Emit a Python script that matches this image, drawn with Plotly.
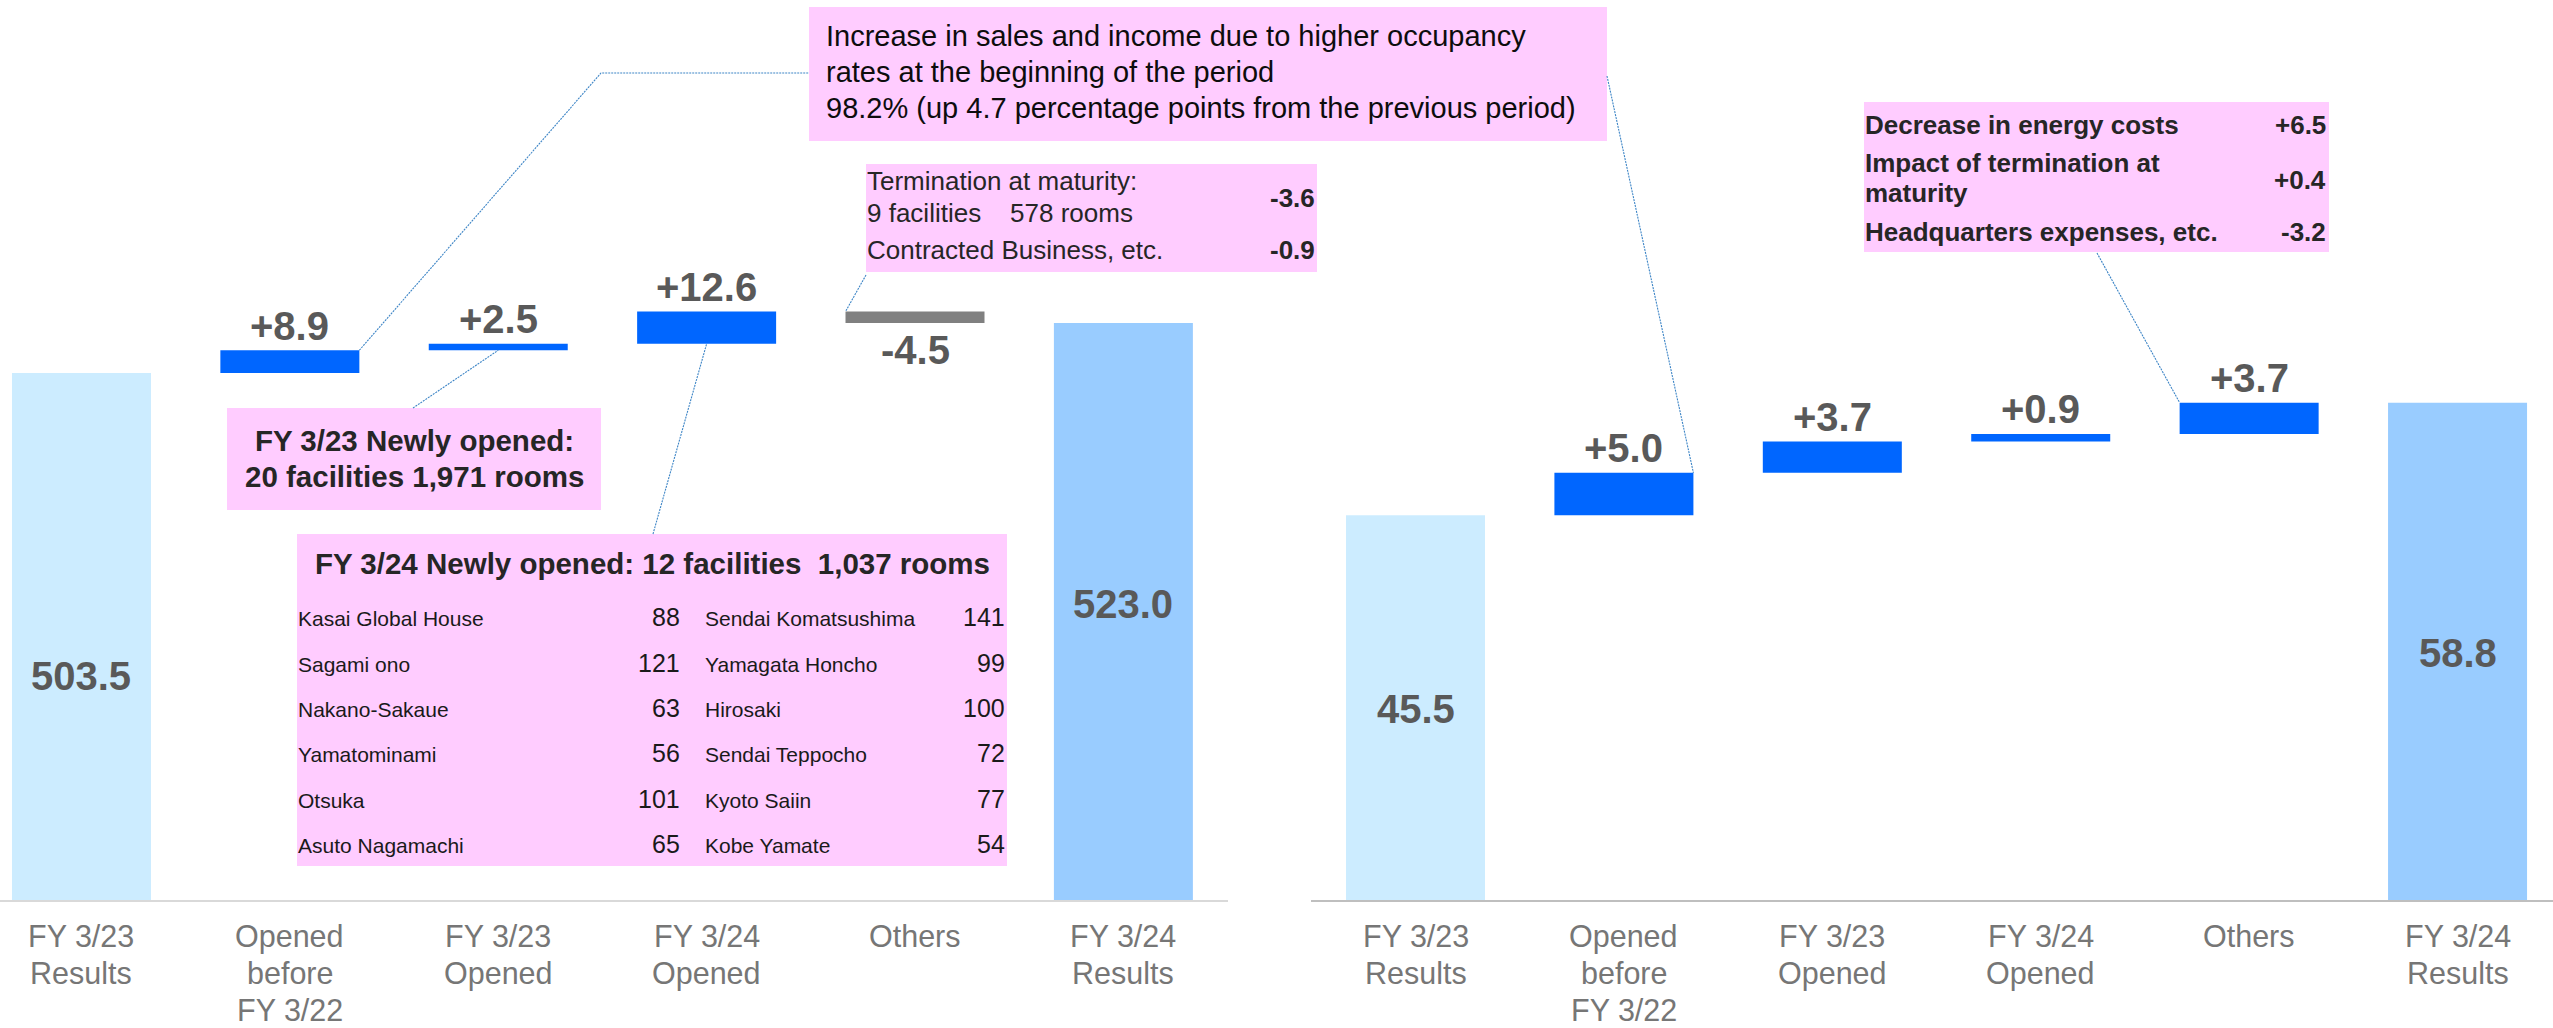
import plotly.graph_objects as go

W, H = 2553, 1028
FONT = "Liberation Sans, Arial, sans-serif"

# ---------------- data ----------------
categories = ["FY 3/23<br>Results", "Opened<br>before<br>FY 3/22", "FY 3/23<br>Opened",
              "FY 3/24<br>Opened", "Others", "FY 3/24<br>Results"]
sales_values = [503.5, 8.9, 2.5, 12.6, -4.5, 523.0]
sales_labels = ["503.5", "+8.9", "+2.5", "+12.6", "-4.5", "523.0"]
profit_values = [45.5, 5.0, 3.7, 0.9, 3.7, 58.8]
profit_labels = ["45.5", "+5.0", "+3.7", "+0.9", "+3.7", "58.8"]

occupancy_lines = ["Increase in sales and income due to higher occupancy",
                   "rates at the beginning of the period",
                   "98.2% (up 4.7 percentage points from the previous period)"]
others_lines = ["Termination at maturity:", "9 facilities\u00a0\u00a0\u00a0 578 rooms", "Contracted Business, etc."]
others_values = ["-3.6", "-0.9"]
fy23_lines = ["FY 3/23 Newly opened:", "20 facilities 1,971 rooms"]
fy24_title = "FY 3/24 Newly opened: 12 facilities\u00a0 1,037 rooms"
fy24_names_col1 = ["Kasai Global House", "Sagami ono", "Nakano-Sakaue", "Yamatominami", "Otsuka", "Asuto Nagamachi"]
fy24_rooms_col1 = [88, 121, 63, 56, 101, 65]
fy24_names_col2 = ["Sendai Komatsushima", "Yamagata Honcho", "Hirosaki", "Sendai Teppocho", "Kyoto Saiin", "Kobe Yamate"]
fy24_rooms_col2 = [141, 99, 100, 72, 77, 54]
profit_item_lines = ["Decrease in energy costs", "Impact of termination at", "maturity", "Headquarters expenses, etc."]
profit_item_values = ["+6.5", "+0.4", "-3.2"]

# ---------------- geometry / style ----------------
PLOT_BOTTOM = 900
L_DOM = (0, 1228)
R_DOM = (1311, 2553)
L_XR = (-0.391, 5.502)
R_XR = (-0.5014, 5.458)
L_YR = (298.0, 649.0)
R_YR = (0.0, 106.4)
BAR_W = 0.667
TICK_BASELINE = 947
TICK_LINE_STEP = 36.8
TICK_SIZE = 30.5

C_START = "#CCECFF"
C_END = "#99CCFF"
C_UP = "#0066FF"
C_DOWN = "#808080"
C_LABEL = "#595959"
C_TICK = "#767676"
C_PINK = "#FFCCFF"
C_TEXT = "#262626"
C_LINK = "#3D85C6"


def pxx(x):
    return x / W


def pxy(y):
    return 1 - y / H


def data2px(i, v, dom, xr, yr):
    x = dom[0] + (i - xr[0]) / (xr[1] - xr[0]) * (dom[1] - dom[0])
    y = PLOT_BOTTOM - (v - yr[0]) / (yr[1] - yr[0]) * PLOT_BOTTOM
    return x, y


def waterfall(values):
    bases, tops, bottoms = [], [], []
    running = 0.0
    n = len(values)
    for k, v in enumerate(values):
        if k == 0:
            bases.append(0.0)
            running = v
            tops.append(v)
            bottoms.append(0.0)
        elif k == n - 1:
            bases.append(0.0)
            tops.append(v)
            bottoms.append(0.0)
        else:
            bases.append(running)
            tops.append(max(running, running + v))
            bottoms.append(min(running, running + v))
            running += v
    return bases, tops, bottoms


fig = go.Figure()

charts = [
    ("x", "y", sales_values, sales_labels, L_DOM, L_XR, L_YR,
     [C_START, C_UP, C_UP, C_UP, C_DOWN, C_END], [-39, 0, 0, 0, 0, 7.5]),
    ("x2", "y2", profit_values, profit_labels, R_DOM, R_XR, R_YR,
     [C_START, C_UP, C_UP, C_UP, C_UP, C_END], [-1.5, 0, 0, 0, 0, -2]),
]

annotations = []
tops_store = {}
for xa, ya, vals, labels, dom, xr, yr, colors, tweaks in charts:
    bases, tops, bottoms = waterfall(vals)
    tops_store[xa] = (bases, tops, bottoms)
    fig.add_trace(go.Bar(
        x=list(range(len(vals))), y=vals, base=bases, width=BAR_W,
        marker=dict(color=colors, line=dict(width=0)),
        xaxis=xa, yaxis=ya, showlegend=False, hoverinfo="skip"))
    n = len(vals)
    for k, (v, lab) in enumerate(zip(vals, labels)):
        if k == 0 or k == n - 1:
            y, ys = (yr[0] + v) / 2, tweaks[k]
        elif v >= 0:
            y, ys = tops[k], 24.5
        else:
            y, ys = bottoms[k], -27
        annotations.append(dict(x=k, y=y, xref=xa, yref=ya, text="<b>%s</b>" % lab,
                                showarrow=False, yanchor="middle", yshift=ys,
                                font=dict(size=40, color=C_LABEL, family=FONT)))
    # category labels, one line each, centred on the category position of the axis
    for k, cat in enumerate(categories):
        for j, part in enumerate(cat.split("<br>")):
            bl = TICK_BASELINE + TICK_LINE_STEP * j
            annotations.append(dict(x=k, y=pxy(bl - 0.35 * TICK_SIZE), xref=xa, yref="paper",
                                    text=part, showarrow=False, xanchor="center", yanchor="middle",
                                    borderpad=0,
                                    font=dict(size=TICK_SIZE, color=C_TICK, family=FONT)))


def text_line(x, baseline, text, size, bold=False, anchor="left", color=C_TEXT):
    t = "<b>%s</b>" % text if bold else text
    annotations.append(dict(x=pxx(x), y=pxy(baseline - 0.35 * size), xref="paper", yref="paper",
                            text=t, showarrow=False, xanchor=anchor, yanchor="middle",
                            borderpad=0, font=dict(size=size, color=color, family=FONT)))


shapes = []


def box(x0, y0, x1, y1):
    shapes.append(dict(type="rect", xref="paper", yref="paper", x0=pxx(x0), x1=pxx(x1),
                       y0=pxy(y1), y1=pxy(y0), fillcolor=C_PINK, line=dict(width=0), layer="below"))


def link(points):
    path = "M " + " L ".join("%f,%f" % (pxx(px), pxy(py)) for px, py in points)
    shapes.append(dict(type="path", xref="paper", yref="paper", path=path,
                       line=dict(color=C_LINK, width=1.1, dash="2px,1px")))


# Box 1: occupancy
box(809, 7, 1607, 141)
for line, bl in zip(occupancy_lines, [45.7, 81.7, 118]):
    text_line(825, bl, line, 29, color="#0D0D0D")

# Box 2: others (sales)
box(866, 164, 1317, 272)
for line, bl in zip(others_lines, [190, 222, 259]):
    text_line(866, bl, line, 26)
for val, bl in zip(others_values, [207, 259]):
    text_line(1316, bl, val, 26, bold=True, anchor="right")

# Box 3: FY3/23 newly opened
box(227, 408, 601, 510)
for line, bl in zip(fy23_lines, [451, 487]):
    text_line(414, bl, line, 29.5, bold=True, anchor="center")

# Box 4: FY3/24 newly opened list
box(297, 534, 1007, 866)
text_line(652, 574, fy24_title, 29.5, bold=True, anchor="center")
for r in range(len(fy24_names_col1)):
    bl = 626 + 45.4 * r
    text_line(297, bl, fy24_names_col1[r], 21, color="#1A1A1A")
    text_line(681, bl, str(fy24_rooms_col1[r]), 25, anchor="right", color="#1A1A1A")
    text_line(704, bl, fy24_names_col2[r], 21, color="#1A1A1A")
    text_line(1006, bl, str(fy24_rooms_col2[r]), 25, anchor="right", color="#1A1A1A")

# Box 5: profit items
box(1864, 102, 2329, 252)
for line, bl in zip(profit_item_lines, [134, 172, 202, 241]):
    text_line(1864, bl, line, 26, bold=True)
for val, bl in zip(profit_item_values, [134, 189, 241]):
    text_line(2327, bl, val, 26, bold=True, anchor="right")

# Connectors (bar ends computed from data through the axis mapping)
lb, lt, lbo = tops_store["x"]
rb, rt, rbo = tops_store["x2"]
half = BAR_W / 2
p = data2px(1 + half, lt[1], L_DOM, L_XR, L_YR)
link([p, (601, 73), (809, 73)])
p = data2px(1 + half, rt[1], R_DOM, R_XR, R_YR)
link([(1607, 76), p])
p = data2px(2, lbo[2], L_DOM, L_XR, L_YR)
link([(413, 408), p])
p = data2px(3, lbo[3], L_DOM, L_XR, L_YR)
link([(653, 534), p])
p = data2px(4 - half, lt[4], L_DOM, L_XR, L_YR)
link([(866, 275), p])
p = data2px(4 - half, rt[4], R_DOM, R_XR, R_YR)
link([(2097, 253), p])

ydom = [(H - PLOT_BOTTOM) / H, 1]
axis_common = dict(tickmode="array", tickvals=list(range(len(categories))),
                   showticklabels=False, showgrid=False, zeroline=False, ticks="",
                   showline=True, linewidth=2, automargin=False, fixedrange=True)

fig.update_layout(
    width=W, height=H, margin=dict(l=0, r=0, t=0, b=0, autoexpand=False),
    paper_bgcolor="white", plot_bgcolor="rgba(0,0,0,0)",
    barmode="overlay", showlegend=False,
    font=dict(family=FONT),
    xaxis=dict(domain=[pxx(L_DOM[0]), pxx(L_DOM[1])], range=list(L_XR), anchor="y",
               linecolor="#D9D9D9", **axis_common),
    xaxis2=dict(domain=[pxx(R_DOM[0]), pxx(R_DOM[1])], range=list(R_XR), anchor="y2",
                linecolor="#BFBFBF", **axis_common),
    yaxis=dict(domain=ydom, range=list(L_YR), visible=False, fixedrange=True, automargin=False),
    yaxis2=dict(domain=ydom, range=list(R_YR), visible=False, anchor="x2", fixedrange=True,
                automargin=False),
    annotations=annotations,
    shapes=shapes,
)

fig.write_html("out.html", config={"displayModeBar": False},
               post_script="document.body.style.margin='0';document.body.style.overflow='hidden';")
